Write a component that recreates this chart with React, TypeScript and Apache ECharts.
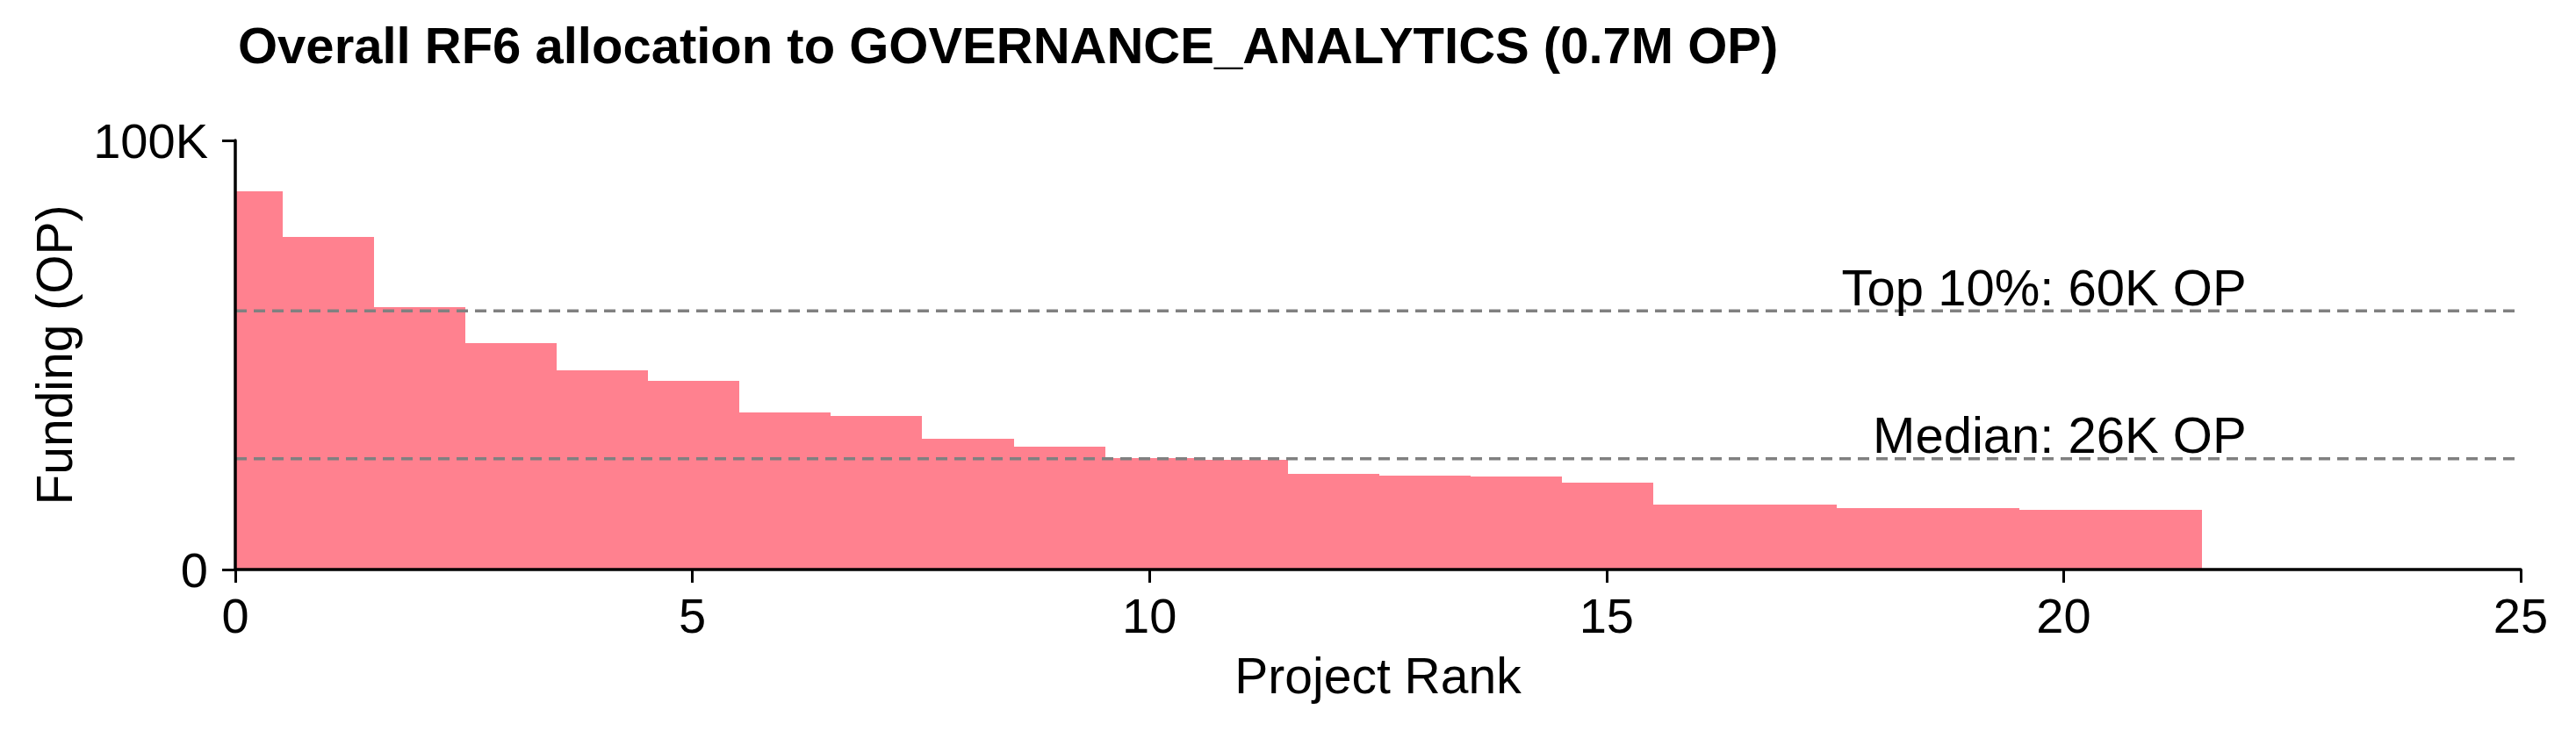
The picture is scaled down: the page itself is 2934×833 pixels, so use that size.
import React, { useEffect, useRef } from "react";
import * as echarts from "echarts";

const titleText = "Overall RF6 allocation to GOVERNANCE_ANALYTICS (0.7M OP)";
const xAxisName = "Project Rank";
const yAxisName = "Funding (OP)";

const ranks = [0, 1, 2, 3, 4, 5, 6, 7, 8, 9, 10, 11, 12, 13, 14, 15, 16, 17, 18, 19, 20, 21];
const funding = [
  88200, 77600, 61200, 52800, 46400, 44000, 36600, 35800, 30500, 28700, 26000,
  25600, 22300, 21900, 21700, 20300, 15100, 15100, 14300, 14300, 13900, 13900,
];

const refValues = [60300, 25800];
const refLabels = ["Top 10%: 60K OP", "Median: 26K OP"];
const refLabelX = [22, 22];

const xMin = 0;
const xMax = 25;
const xInterval = 5;
const yMin = 0;
const yMax = 100000;
const yInterval = 100000;

const FONT = '"Liberation Sans", Arial, Helvetica, sans-serif';
const BAR_COLOR = "#FF818F";

export default function App() {
  const ref = useRef<HTMLDivElement>(null);

  useEffect(() => {
    if (!ref.current) return;
    const chart = echarts.init(ref.current, null, { renderer: "svg" });

    const barData = ranks.map((r, i) => [r, funding[i]]);
    const refData = refValues.map((v, i) => [refLabelX[i], v, i]);

    const option: any = {
      animation: false,
      backgroundColor: "#ffffff",
      title: {
        text: titleText,
        left: 271,
        top: 22,
        padding: 0,
        textStyle: {
          fontFamily: FONT,
          fontSize: 58,
          fontWeight: "bold",
          color: "#000",
        },
      },
      grid: {
        left: 268,
        right: 63,
        top: 160,
        bottom: 184,
        containLabel: false,
      },
      xAxis: {
        type: "value",
        min: xMin,
        max: xMax,
        interval: xInterval,
        z: 10,
        name: xAxisName,
        nameLocation: "middle",
        nameGap: 92,
        nameTextStyle: { fontFamily: FONT, fontSize: 57, color: "#000" },
        axisLine: { show: true, lineStyle: { color: "#000", width: 3.5 } },
        axisTick: { show: true, inside: false, length: 15, lineStyle: { color: "#000", width: 3 } },
        axisLabel: {
          fontFamily: FONT,
          fontSize: 56,
          color: "#000",
          margin: 24,
        },
        splitLine: { show: false },
      },
      yAxis: {
        type: "value",
        min: yMin,
        max: yMax,
        interval: yInterval,
        z: 10,
        name: yAxisName,
        nameLocation: "middle",
        nameGap: 178,
        nameTextStyle: { fontFamily: FONT, fontSize: 57, color: "#000" },
        axisLine: { show: true, lineStyle: { color: "#000", width: 3.5 } },
        axisTick: { show: true, inside: false, length: 15, lineStyle: { color: "#000", width: 3 } },
        axisLabel: {
          fontFamily: FONT,
          fontSize: 56,
          color: "#000",
          margin: 31,
          formatter: (v: number) => (v === 0 ? "0" : `${Math.round(v / 1000)}K`),
        },
        splitLine: { show: false },
      },
      series: [
        {
          type: "custom",
          name: "funding",
          data: barData,
          z: 2,
          renderItem: (params: any, api: any) => {
            const x = api.value(0);
            const v = api.value(1);
            const p0 = api.coord([x - 0.5, v]);
            const p1 = api.coord([x + 0.5, 0]);
            const cs = params.coordSys;
            const rect = echarts.graphic.clipRectByRect(
              { x: p0[0], y: p0[1], width: p1[0] - p0[0], height: p1[1] - p0[1] },
              { x: cs.x, y: cs.y, width: cs.width, height: cs.height }
            );
            if (!rect) return null;
            const r = {
              x: Math.floor(rect.x),
              y: Math.round(rect.y),
              width: Math.ceil(rect.x + rect.width) - Math.floor(rect.x) + 1,
              height: Math.round(rect.y + rect.height) - Math.round(rect.y),
            };
            return { type: "rect", shape: r, style: { fill: BAR_COLOR } };
          },
        },
        {
          type: "custom",
          name: "refs",
          data: refData,
          z: 5,
          renderItem: (params: any, api: any) => {
            const lx = api.value(0);
            const v = api.value(1);
            const idx = params.dataIndex;
            const a = api.coord([xMin, v]);
            const b = api.coord([xMax, v]);
            const t = api.coord([lx, v]);
            return {
              type: "group",
              children: [
                {
                  type: "line",
                  shape: { x1: a[0], y1: a[1], x2: b[0], y2: b[1] },
                  style: { stroke: "#808080", lineWidth: 3.5, lineDash: [13, 8] },
                },
                {
                  type: "text",
                  x: t[0],
                  y: t[1] + 2,
                  style: {
                    text: refLabels[idx],
                    fill: "#000",
                    fontSize: 58,
                    fontFamily: FONT,
                    align: "right",
                    verticalAlign: "bottom",
                  },
                },
              ],
            };
          },
        },
      ],
    };

    chart.setOption(option);
    return () => chart.dispose();
  }, []);

  return (
    <div
      ref={ref}
      style={{ position: "absolute", left: 0, top: 0, width: 2934, height: 833, background: "#fff" }}
    />
  );
}
